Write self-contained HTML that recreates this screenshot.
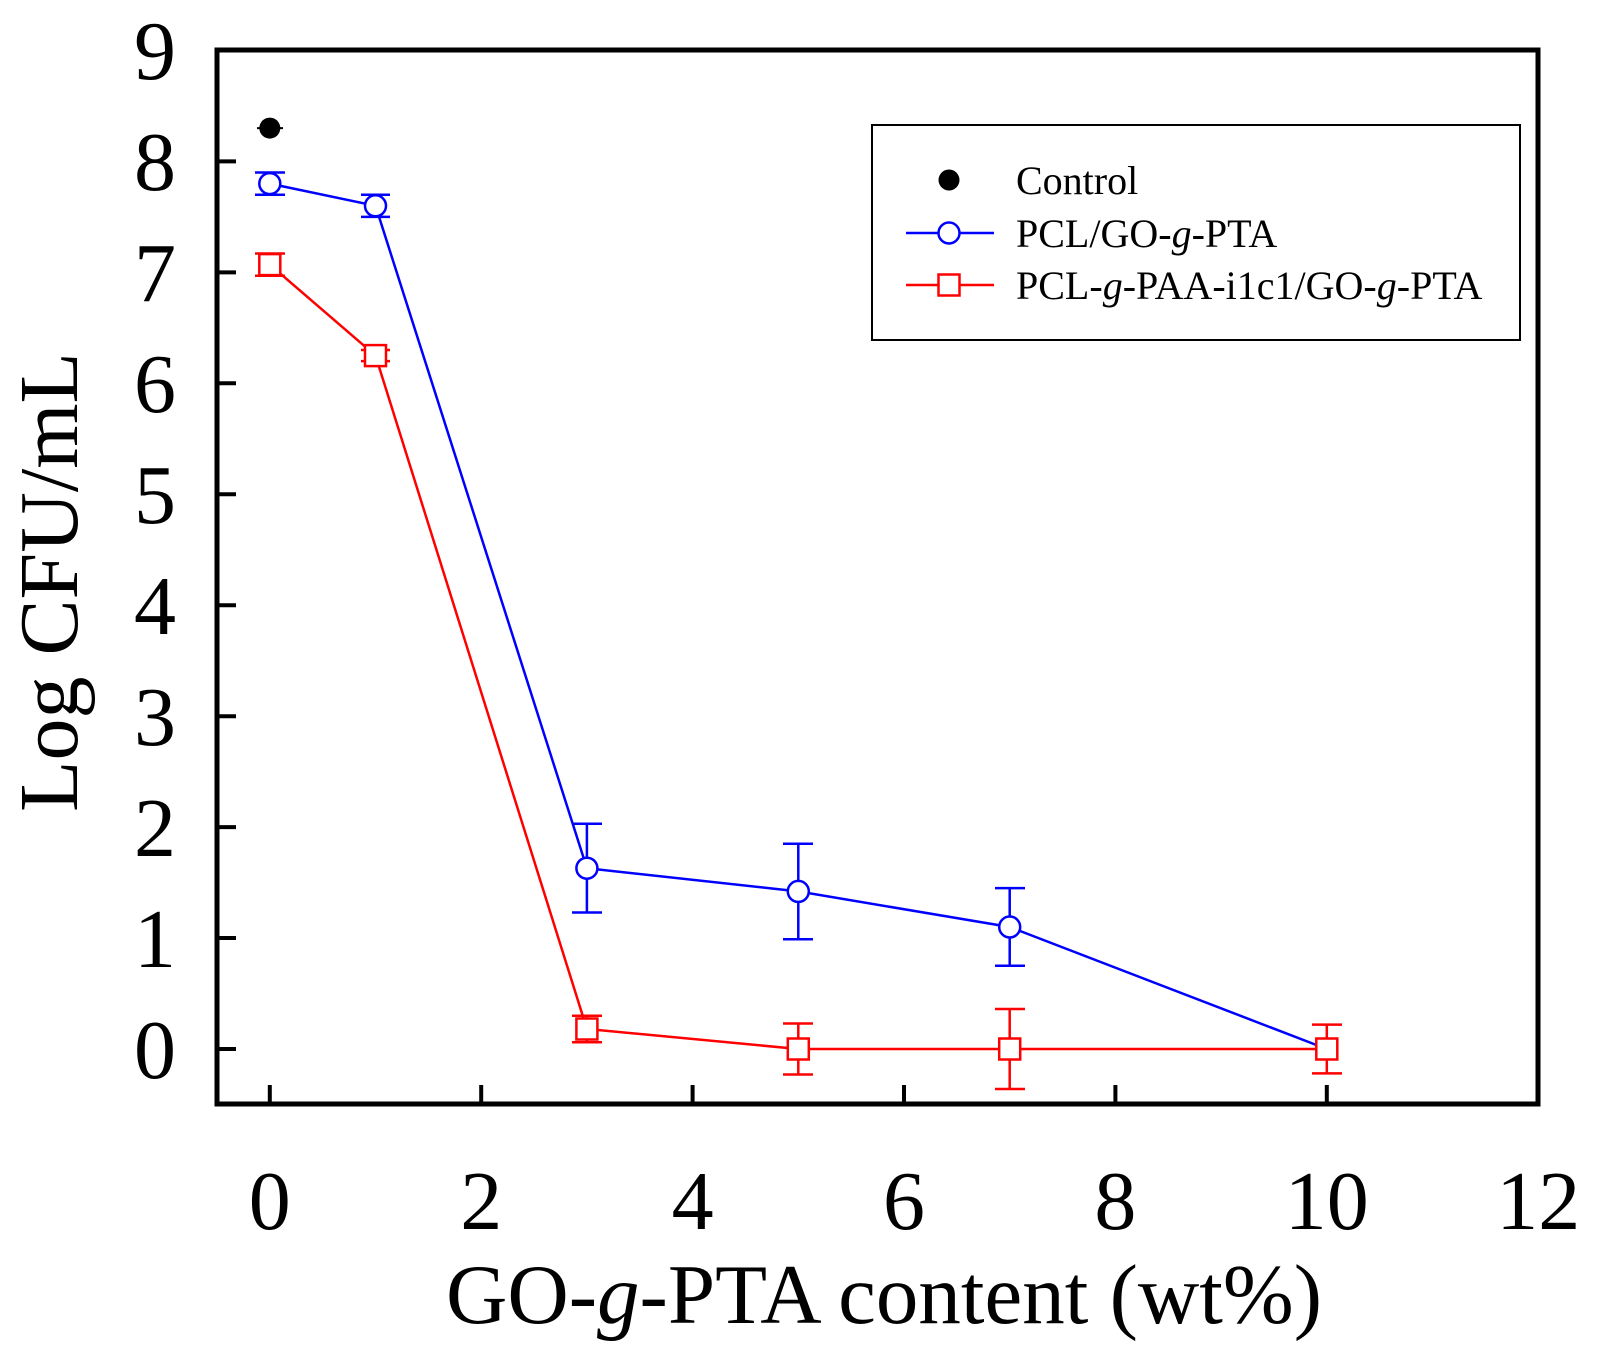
<!DOCTYPE html>
<html><head><meta charset="utf-8"><style>html,body{margin:0;padding:0;background:#fff}</style></head>
<body>
<svg width="1600" height="1351" viewBox="0 0 1600 1351" xmlns="http://www.w3.org/2000/svg" font-family="Liberation Serif, serif">
<rect width="1600" height="1351" fill="#fff"/>
<g stroke="#000" stroke-width="4">
<line x1="217" y1="1049" x2="236" y2="1049"/><line x1="217" y1="938" x2="236" y2="938"/>
<line x1="217" y1="827.1" x2="236" y2="827.1"/><line x1="217" y1="716.2" x2="236" y2="716.2"/>
<line x1="217" y1="605.2" x2="236" y2="605.2"/><line x1="217" y1="494.3" x2="236" y2="494.3"/>
<line x1="217" y1="383.3" x2="236" y2="383.3"/><line x1="217" y1="272.4" x2="236" y2="272.4"/>
<line x1="217" y1="161.4" x2="236" y2="161.4"/>
<line x1="269.8" y1="1104" x2="269.8" y2="1085"/><line x1="481.2" y1="1104" x2="481.2" y2="1085"/>
<line x1="692.6" y1="1104" x2="692.6" y2="1085"/><line x1="904" y1="1104" x2="904" y2="1085"/>
<line x1="1115.4" y1="1104" x2="1115.4" y2="1085"/><line x1="1326.8" y1="1104" x2="1326.8" y2="1085"/>
</g>
<rect x="217" y="50" width="1321" height="1054" fill="none" stroke="#000" stroke-width="5"/>
<g font-size="84" text-anchor="end">
<text x="176" y="1078">0</text><text x="176" y="967">1</text><text x="176" y="856">2</text>
<text x="176" y="745">3</text><text x="176" y="634">4</text><text x="176" y="523">5</text>
<text x="176" y="412">6</text><text x="176" y="301">7</text><text x="176" y="190">8</text>
<text x="176" y="79">9</text>
</g>
<g font-size="84" text-anchor="middle">
<text x="269.8" y="1229">0</text><text x="481.2" y="1229">2</text><text x="692.6" y="1229">4</text>
<text x="904" y="1229">6</text><text x="1115.4" y="1229">8</text><text x="1326.8" y="1229">10</text>
<text x="1538.2" y="1229">12</text>
</g>
<text x="884" y="1323" font-size="85" text-anchor="middle">GO-<tspan font-style="italic">g</tspan>-PTA content (wt%)</text>
<text transform="translate(77,582) rotate(-90)" font-size="84" text-anchor="middle">Log CFU/mL</text>
<g stroke="#0000ff" stroke-width="2.5" fill="none">
<polyline points="269.8,183.6 375.5,205.8 586.9,868.2 798.3,891.4 1009.7,927 1326.8,1049"/>
<path d="M269.8,194.7V172.5M255,194.7h30M255,172.5h30 M375.5,216.9V194.7M361,216.9h29M361,194.7h29 M586.9,912.5V823.8M572,912.5h30M572,823.8h30 M798.3,939.2V843.7M783,939.2h30M783,843.7h30 M1009.7,965.8V888.1M995,965.8h30M995,888.1h30"/>
</g>
<g stroke="#0000ff" stroke-width="2.5" fill="#fff">
<circle cx="269.8" cy="183.6" r="10.5"/><circle cx="375.5" cy="205.8" r="10.5"/>
<circle cx="586.9" cy="868.2" r="10.5"/><circle cx="798.3" cy="891.4" r="10.5"/>
<circle cx="1009.7" cy="927" r="10.5"/>
</g>
<g stroke="#ff0000" stroke-width="2.5" fill="none">
<polyline points="269.8,264.6 375.5,355.6 586.9,1029 798.3,1049 1009.7,1049 1326.8,1049"/>
<path d="M269.8,275.7V253.5M255,275.7h30M255,253.5h30 M375.5,361.1V350M361,361.1h29M361,350h29 M586.9,1042.3V1015.7M572,1042.3h30M572,1015.7h30 M798.3,1074.5V1023.5M783,1074.5h30M783,1023.5h30 M1009.7,1089V1009M995,1089h30M995,1009h30 M1326.8,1073.4V1024.6M1312,1073.4h30M1312,1024.6h30"/>
</g>
<g stroke="#ff0000" stroke-width="2.5" fill="#fff">
<rect x="259.3" y="254.1" width="21" height="21"/><rect x="365" y="345.1" width="21" height="21"/>
<rect x="576.4" y="1018.5" width="21" height="21"/><rect x="787.8" y="1038.5" width="21" height="21"/>
<rect x="999.2" y="1038.5" width="21" height="21"/><rect x="1316.3" y="1038.5" width="21" height="21"/>
</g>
<line x1="257" y1="128.1" x2="283" y2="128.1" stroke="#000" stroke-width="2"/>
<circle cx="269.8" cy="128.1" r="10.5" fill="#000"/>
<rect x="872" y="125" width="648" height="215" fill="#fff" stroke="#000" stroke-width="2"/>
<circle cx="949" cy="180" r="10.5" fill="#000"/>
<line x1="906" y1="233" x2="994" y2="233" stroke="#0000ff" stroke-width="2.5"/>
<circle cx="949" cy="233" r="10.5" fill="#fff" stroke="#0000ff" stroke-width="2.5"/>
<line x1="906" y1="285" x2="994" y2="285" stroke="#ff0000" stroke-width="2.5"/>
<rect x="938.5" y="274.5" width="21" height="21" fill="#fff" stroke="#ff0000" stroke-width="2.5"/>
<g font-size="40">
<text x="1016" y="194">Control</text>
<text x="1016" y="247">PCL/GO-<tspan font-style="italic">g</tspan>-PTA</text>
<text x="1016" y="299">PCL-<tspan font-style="italic">g</tspan>-PAA-i1c1/GO-<tspan font-style="italic">g</tspan>-PTA</text>
</g>
</svg>
</body></html>
